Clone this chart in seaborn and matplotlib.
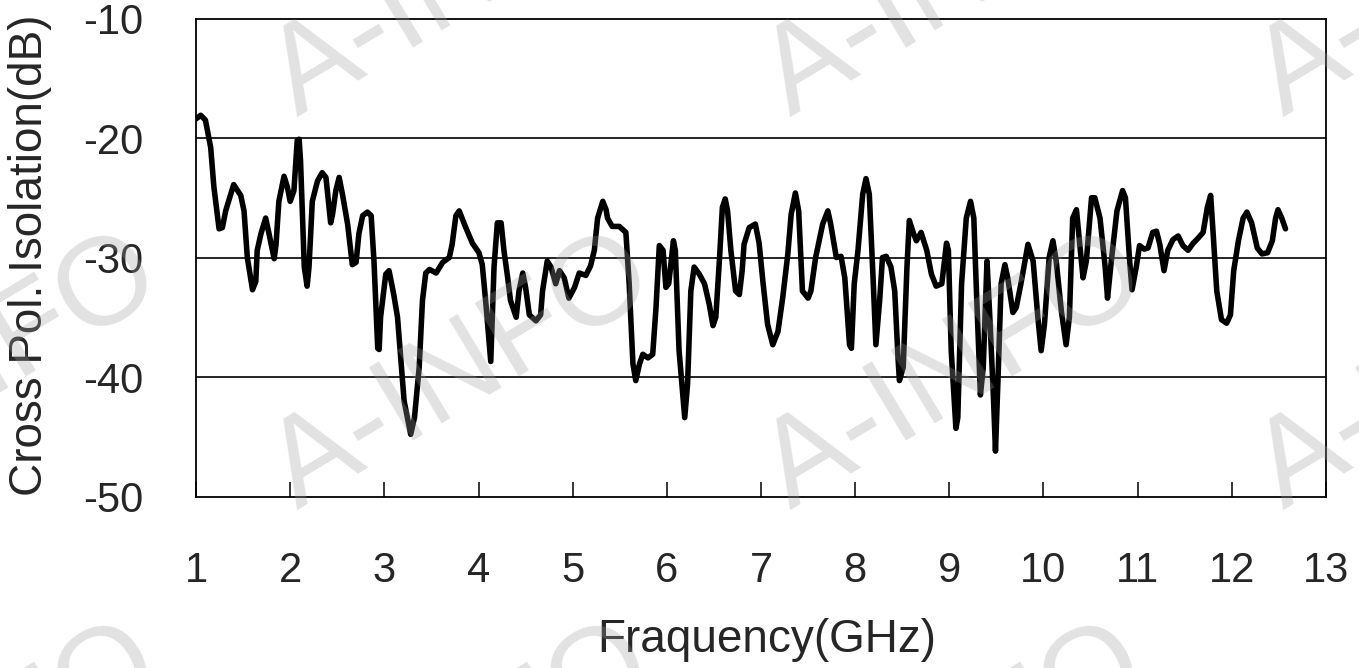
import numpy as np
import pandas as pd
import matplotlib
matplotlib.use("Agg")
import matplotlib.pyplot as plt
import seaborn as sns

freq = [1.00, 1.05, 1.10, 1.156, 1.19, 1.245, 1.28, 1.315, 1.40, 1.475, 1.51, 1.545,
        1.60, 1.635, 1.65, 1.69, 1.74, 1.775, 1.83, 1.85, 1.88, 1.935, 1.97, 2.00,
        2.04, 2.075, 2.095, 2.11, 2.15, 2.18, 2.20, 2.235, 2.29, 2.34, 2.38, 2.43,
        2.45, 2.485, 2.52, 2.555, 2.61, 2.66, 2.70, 2.73, 2.77, 2.82, 2.86, 2.89,
        2.93, 2.945, 2.96, 3.015, 3.05, 3.10, 3.14, 3.21, 3.28, 3.32, 3.37, 3.405,
        3.44, 3.48, 3.55, 3.62, 3.69, 3.72, 3.76, 3.795, 3.86, 3.935, 4.005, 4.04,
        4.08, 4.13, 4.165, 4.20, 4.24, 4.27, 4.31, 4.34, 4.40, 4.43, 4.47, 4.50,
        4.54, 4.61, 4.66, 4.68, 4.73, 4.77, 4.82, 4.86, 4.91, 4.96, 5.02, 5.07,
        5.14, 5.19, 5.23, 5.265, 5.32, 5.355, 5.37, 5.42, 5.495, 5.565, 5.60, 5.64,
        5.67, 5.71, 5.745, 5.80, 5.85, 5.885, 5.92, 5.96, 5.99, 6.02, 6.07, 6.09,
        6.13, 6.19, 6.22, 6.255, 6.29, 6.345, 6.40, 6.45, 6.49, 6.52, 6.56, 6.59,
        6.62, 6.645, 6.68, 6.73, 6.77, 6.80, 6.82, 6.875, 6.94, 6.98, 7.02, 7.07,
        7.125, 7.18, 7.23, 7.285, 7.32, 7.365, 7.40, 7.44, 7.50, 7.53, 7.58, 7.655,
        7.71, 7.74, 7.80, 7.85, 7.89, 7.94, 7.96, 7.99, 8.03, 8.08, 8.115, 8.15,
        8.19, 8.22, 8.26, 8.29, 8.33, 8.38, 8.42, 8.455, 8.47, 8.51, 8.55, 8.575,
        8.62, 8.65, 8.70, 8.76, 8.81, 8.86, 8.92, 8.97, 8.99, 9.02, 9.07, 9.09,
        9.13, 9.18, 9.225, 9.26, 9.285, 9.33, 9.36, 9.40, 9.43, 9.47, 9.49, 9.515,
        9.55, 9.59, 9.62, 9.675, 9.71, 9.76, 9.835, 9.89, 9.94, 9.975, 10.01, 10.06,
        10.10, 10.135, 10.19, 10.24, 10.275, 10.31, 10.35, 10.385, 10.42, 10.455, 10.51, 10.545,
        10.60, 10.655, 10.68, 10.72, 10.78, 10.84, 10.87, 10.915, 10.94, 10.985, 11.02, 11.07,
        11.11, 11.16, 11.20, 11.235, 11.28, 11.32, 11.375, 11.43, 11.48, 11.535, 11.59, 11.64,
        11.695, 11.74, 11.775, 11.80, 11.84, 11.89, 11.945, 11.985, 12.02, 12.07, 12.12, 12.16,
        12.21, 12.27, 12.32, 12.38, 12.43, 12.465, 12.49, 12.53, 12.57]

isolation = [-18.4, -18.1, -18.5, -20.8, -24.1, -27.6, -27.5, -26.1, -23.9, -24.8, -26.1, -30.0,
             -32.7, -32.0, -29.4, -28.0, -26.7, -28.0, -30.1, -28.9, -25.3, -23.2, -24.1, -25.3,
             -24.4, -20.2, -20.1, -21.9, -30.8, -32.4, -30.8, -25.3, -23.6, -22.9, -23.3, -27.1,
             -26.4, -24.4, -23.3, -24.7, -27.2, -30.6, -30.4, -28.0, -26.5, -26.2, -26.5, -30.3,
             -37.6, -37.7, -35.0, -31.4, -31.1, -33.1, -35.0, -42.0, -44.8, -43.4, -39.2, -33.6,
             -31.3, -31.0, -31.3, -30.4, -30.0, -28.9, -26.5, -26.1, -27.4, -28.8, -29.6, -30.6,
             -34.0, -38.7, -30.8, -27.1, -27.1, -29.4, -31.7, -33.6, -35.0, -32.8, -31.3, -32.5,
             -34.8, -35.3, -34.8, -32.8, -30.3, -30.8, -32.2, -31.1, -31.7, -33.4, -32.5, -31.3,
             -31.5, -30.7, -29.4, -26.7, -25.3, -26.0, -26.7, -27.4, -27.4, -27.9, -32.2, -38.9,
             -40.3, -38.9, -38.1, -38.4, -38.1, -34.2, -29.0, -29.4, -32.5, -32.2, -28.6, -29.4,
             -37.8, -43.4, -40.6, -32.8, -30.8, -31.4, -32.2, -33.9, -35.7, -35.0, -30.0, -25.8,
             -25.1, -26.1, -29.4, -32.8, -33.1, -31.1, -28.9, -27.5, -27.2, -28.8, -32.0, -35.6,
             -37.3, -36.2, -33.4, -29.7, -26.4, -24.6, -26.1, -32.8, -33.4, -32.8, -30.0, -27.2,
             -26.1, -27.2, -30.0, -29.9, -31.7, -37.3, -37.6, -32.2, -29.4, -24.7, -23.4, -24.7,
             -31.7, -37.3, -33.6, -30.0, -29.9, -30.8, -32.8, -38.4, -40.3, -39.2, -30.8, -26.9,
             -28.0, -28.6, -27.9, -29.4, -31.4, -32.4, -32.2, -28.8, -29.4, -37.8, -44.3, -43.4,
             -32.2, -26.7, -25.3, -26.7, -32.2, -41.5, -39.2, -30.3, -35.0, -42.0, -46.2, -40.6,
             -32.2, -30.6, -31.7, -34.6, -34.2, -32.2, -28.9, -30.3, -35.0, -37.8, -35.6, -30.0,
             -28.6, -30.3, -34.5, -37.3, -35.0, -26.7, -26.0, -28.9, -31.7, -30.3, -25.0, -25.0,
             -26.7, -30.8, -33.4, -30.3, -26.1, -24.4, -25.0, -30.3, -32.7, -30.8, -29.0, -29.3,
             -29.2, -27.9, -27.8, -28.9, -31.1, -29.4, -28.5, -28.2, -29.0, -29.4, -28.8, -28.4,
             -27.9, -25.8, -24.8, -27.8, -32.8, -35.2, -35.5, -34.8, -31.1, -28.6, -26.7, -26.2,
             -27.1, -29.2, -29.7, -29.6, -28.6, -26.7, -26.0, -26.7, -27.6]

x_ticks = list(range(1, 14))
y_ticks = [-50, -40, -30, -20, -10]

df = pd.DataFrame({"freq": freq, "iso": isolation})

sns.set_style("white")
plt.rcParams["font.family"] = ["Liberation Sans", "DejaVu Sans"]

W, H = 1359, 668
fig = plt.figure(figsize=(W / 100, H / 100), dpi=100)
ax = fig.add_axes([196 / W, 1 - 496.5 / H, (1326 - 196) / W, (496.5 - 18.5) / H])

sns.lineplot(data=df, x="freq", y="iso", ax=ax, color="black", linewidth=4.0,
             estimator=None, sort=False, solid_joinstyle="round", solid_capstyle="round")

ax.set_xlim(1, 13)
ax.set_ylim(-50, -10)
ax.set_xticks(x_ticks)
ax.set_yticks(y_ticks)
ax.set_xticklabels([str(t) for t in x_ticks], fontsize=30)
ax.set_yticklabels([str(t) for t in y_ticks], fontsize=30)

for v in [-20, -30, -40]:
    ax.axhline(v, color="black", linewidth=1.2, zorder=1)

for s in ax.spines.values():
    s.set_visible(True)
    s.set_color("black")
    s.set_linewidth(1.3)

ax.tick_params(axis="x", direction="in", length=11, width=1.1, color="black",
               pad=39, bottom=True, top=False)
ax.tick_params(axis="y", length=0, pad=38, left=True)

ax.set_xlabel("Fraquency(GHz)", fontsize=33)
ax.set_ylabel("Cross Pol. Isolation(dB)", fontsize=33)
ax.xaxis.set_label_coords(0.505, -0.30)
ax.yaxis.set_label_coords(-0.147, 0.505)
ax.xaxis.label.set_va("center")
ax.yaxis.label.set_va("center")

# watermark tiles laid over the chart
for wy in [117, 510, 900]:
    for wx in [-196, 297, 790, 1283]:
        fig.text(wx / W, 1 - wy / H, "A-INFO", rotation=31, rotation_mode="anchor",
                 ha="left", va="baseline", fontsize=90, color=(0.62, 0.62, 0.62),
                 alpha=0.3, zorder=10)

fig.savefig("out.png", dpi=100)
